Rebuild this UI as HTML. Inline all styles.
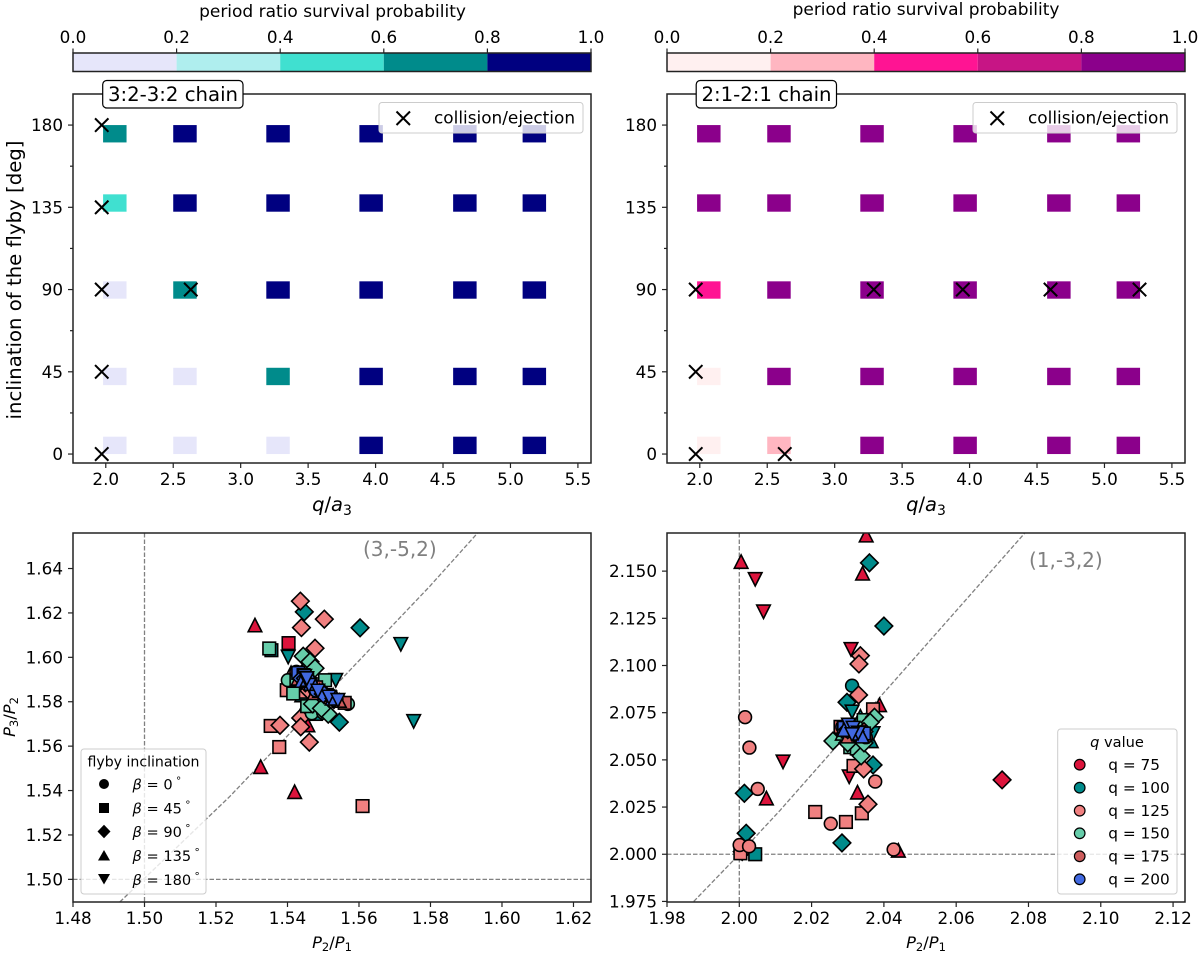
<!DOCTYPE html>
<html lang="en">
<head>
<meta charset="utf-8">
<title>Period ratio survival probability</title>
<style>
html,body{margin:0;padding:0;background:#fff;width:1200px;height:953px;overflow:hidden}
svg{display:block;font-family:"DejaVu Sans","Liberation Sans",sans-serif;fill:#000}
</style>
</head>
<body>
<svg id="fig" xmlns="http://www.w3.org/2000/svg" width="1200" height="953" viewBox="0 0 1200 953">
<defs>
<clipPath id="clip-tl"><rect x="73" y="94" width="518" height="369"/></clipPath>
<clipPath id="clip-tr"><rect x="667" y="94" width="518" height="369"/></clipPath>
<clipPath id="clip-bl"><rect x="73" y="533" width="518" height="369"/></clipPath>
<clipPath id="clip-br"><rect x="667" y="533" width="518" height="369"/></clipPath>
</defs>
<g id="layer-main"></g>

<!-- static titles -->
<text x="332.5" y="17" font-size="17" text-anchor="middle">period ratio survival probability</text>
<text x="926" y="15" font-size="17" text-anchor="middle">period ratio survival probability</text>
<text transform="translate(21,280) rotate(-90)" font-size="19.7" text-anchor="middle">inclination of the flyby [deg]</text>
<text x="332" y="511" font-size="19.5" text-anchor="middle"><tspan font-style="italic">q</tspan>/<tspan font-style="italic">a</tspan><tspan font-size="14" dy="4">3</tspan></text>
<text x="926" y="511" font-size="19.5" text-anchor="middle"><tspan font-style="italic">q</tspan>/<tspan font-style="italic">a</tspan><tspan font-size="14" dy="4">3</tspan></text>
<text x="332" y="948" font-size="16.3" text-anchor="middle"><tspan font-style="italic">P</tspan><tspan font-size="11.5" dy="3">2</tspan><tspan dy="-3">/</tspan><tspan font-style="italic">P</tspan><tspan font-size="11.5" dy="3">1</tspan></text>
<text x="926" y="948" font-size="16.3" text-anchor="middle"><tspan font-style="italic">P</tspan><tspan font-size="11.5" dy="3">2</tspan><tspan dy="-3">/</tspan><tspan font-style="italic">P</tspan><tspan font-size="11.5" dy="3">1</tspan></text>
<text transform="translate(15,717) rotate(-90)" font-size="16.3" text-anchor="middle"><tspan font-style="italic">P</tspan><tspan font-size="11.5" dy="3">3</tspan><tspan dy="-3">/</tspan><tspan font-style="italic">P</tspan><tspan font-size="11.5" dy="3">2</tspan></text>
<text x="363" y="556" font-size="20" style="fill:#808080">(3,-5,2)</text>
<text x="1029" y="567" font-size="20" style="fill:#808080">(1,-3,2)</text>

<!-- chain labels -->
<g>
<rect x="102.7" y="80.5" width="140.3" height="27.5" rx="4" fill="#fff" stroke="#000" stroke-width="1.2"/>
<text x="173" y="101" font-size="19.7" text-anchor="middle">3:2-3:2 chain</text>
</g>
<g>
<rect x="696.2" y="80.5" width="140.3" height="27.5" rx="4" fill="#fff" stroke="#000" stroke-width="1.2"/>
<text x="766.5" y="101" font-size="19.7" text-anchor="middle">2:1-2:1 chain</text>
</g>

<!-- collision legends -->
<g>
<rect x="379" y="102.5" width="204" height="30.5" rx="3" fill="#fff" fill-opacity="0.8" stroke="#ccc" stroke-width="1"/>
<path d="M396.5 111.5L410 125M410 111.5L396.5 125" stroke="#000" stroke-width="2" fill="none"/>
<text x="434" y="123.5" font-size="16.9">collision/ejection</text>
</g>
<g>
<rect x="973" y="102.5" width="204" height="30.5" rx="3" fill="#fff" fill-opacity="0.8" stroke="#ccc" stroke-width="1"/>
<path d="M990.5 111.5L1004 125M1004 111.5L990.5 125" stroke="#000" stroke-width="2" fill="none"/>
<text x="1028" y="123.5" font-size="16.9">collision/ejection</text>
</g>

<!-- flyby inclination legend -->
<g font-size="14.6">
<rect x="81" y="749" width="125" height="145" rx="3" fill="#fff" fill-opacity="0.8" stroke="#ccc" stroke-width="1"/>
<text x="143.5" y="766.5" font-size="14.1" text-anchor="middle">flyby inclination</text>
<circle cx="104" cy="784" r="5"/>
<rect x="99" y="803" width="10" height="10"/>
<path d="M104 824.7L110.5 831.5L104 838.2L97.5 831.5Z"/>
<path d="M98 860.5L110 860.5L104 850Z"/>
<path d="M98 874L110 874L104 884.5Z"/>
<text x="132.5" y="789.5"><tspan font-style="italic">β</tspan> = 0<tspan font-size="10.5" dy="-5"> °</tspan></text>
<text x="132.5" y="813.5"><tspan font-style="italic">β</tspan> = 45<tspan font-size="10.5" dy="-5"> °</tspan></text>
<text x="132.5" y="837"><tspan font-style="italic">β</tspan> = 90<tspan font-size="10.5" dy="-5"> °</tspan></text>
<text x="132.5" y="861"><tspan font-style="italic">β</tspan> = 135<tspan font-size="10.5" dy="-5"> °</tspan></text>
<text x="132.5" y="885"><tspan font-style="italic">β</tspan> = 180<tspan font-size="10.5" dy="-5"> °</tspan></text>
</g>

<!-- q value legend -->
<g font-size="15.3">
<rect x="1057.7" y="729" width="119.3" height="165" rx="3" fill="#fff" fill-opacity="0.8" stroke="#ccc" stroke-width="1"/>
<text x="1117" y="747" font-size="14.6" text-anchor="middle"><tspan font-style="italic">q</tspan> value</text>
<circle cx="1079.7" cy="764.7" r="5.3" fill="#DC143C" stroke="#000" stroke-width="1.2"/>
<circle cx="1079.7" cy="787.7" r="5.3" fill="#008B8B" stroke="#000" stroke-width="1.2"/>
<circle cx="1079.7" cy="810.7" r="5.3" fill="#F08080" stroke="#000" stroke-width="1.2"/>
<circle cx="1079.7" cy="833.3" r="5.3" fill="#66CDAA" stroke="#000" stroke-width="1.2"/>
<circle cx="1079.7" cy="856.3" r="5.3" fill="#CD5C5C" stroke="#000" stroke-width="1.2"/>
<circle cx="1079.7" cy="879.3" r="5.3" fill="#4169E1" stroke="#000" stroke-width="1.2"/>
<text x="1108.3" y="770">q = 75</text>
<text x="1108.3" y="793">q = 100</text>
<text x="1108.3" y="816">q = 125</text>
<text x="1108.3" y="838.6">q = 150</text>
<text x="1108.3" y="861.6">q = 175</text>
<text x="1108.3" y="884.6">q = 200</text>
</g>
</svg>

<script>
// ---- heatmap data ----
const inclinationTicks = [0, 45, 90, 135, 180];
const inclinationMinorTicks = [22.5, 67.5, 112.5, 157.5];
const qOverATicks = [2.0, 2.5, 3.0, 3.5, 4.0, 4.5, 5.0, 5.5];
const cellColumnStart = [1.98, 2.50, 3.19, 3.88, 4.575, 5.09];
const cellRowStart = [0, 37.7, 85, 132.6, 170.5];
const cellColumnWidth = 0.174;
const cellRowHeight = 9.5;
const survivalLeft = [
  [0.1, 0.1, 0.1, 0.9, 0.9, 0.9],
  [0.1, 0.1, 0.7, 0.9, 0.9, 0.9],
  [0.1, 0.7, 0.9, 0.9, 0.9, 0.9],
  [0.5, 0.9, 0.9, 0.9, 0.9, 0.9],
  [0.7, 0.9, 0.9, 0.9, 0.9, 0.9]
];
const survivalRight = [
  [0.1, 0.3, 0.9, 0.9, 0.9, 0.9],
  [0.1, 0.9, 0.9, 0.9, 0.9, 0.9],
  [0.5, 0.9, 0.9, 0.9, 0.9, 0.9],
  [0.9, 0.9, 0.9, 0.9, 0.9, 0.9],
  [0.9, 0.9, 0.9, 0.9, 0.9, 0.9]
];
const collisionsLeft = [[1.97,0],[1.97,45],[1.97,90],[2.63,90],[1.97,135],[1.97,180]];
const collisionsRight = [[1.97,0],[2.63,0],[1.97,45],[1.97,90],[3.29,90],[3.95,90],[4.60,90],[5.26,90]];
const colorbarTicks = [0.0, 0.2, 0.4, 0.6, 0.8, 1.0];
const paletteLeft = ['#E6E6FA','#AFEEEE','#40E0D0','#008B8B','#000080'];
const paletteRight = ['#FFF0F0','#FFB6C1','#FF1493','#C71585','#8B008B'];

// ---- scatter axes ----
const leftXTicks = [1.48,1.50,1.52,1.54,1.56,1.58,1.60,1.62];
const leftYTicks = [1.50,1.52,1.54,1.56,1.58,1.60,1.62,1.64];
const rightXTicks = [1.98,2.00,2.02,2.04,2.06,2.08,2.10,2.12];
const rightYTicks = [1.975,2.000,2.025,2.050,2.075,2.100,2.125,2.150];
const leftGuideX = [1.4931,1.5239,1.5798,1.5933];
const leftGuideY = [1.4898,1.5374,1.6320,1.6562];
const rightGuideX = [1.9874,2.0000,2.0113,2.0789];
const rightGuideY = [1.9750,2.0000,2.0233,2.1700];
const qColors = ['#DC143C','#008B8B','#F08080','#66CDAA','#CD5C5C','#4169E1'];
const qNames = ['q75','q100','q125','q150','q175','q200'];
const betaNames = ['circle','square','diamond','triangle-up','triangle-down'];

// ---- scatter values: [P2/P1, P3/P2, beta index] ----
const leftQ75 = [[1.5403,1.6064,1],[1.5309,1.6145,3],[1.5325,1.5507,3],[1.5420,1.5394,3],[1.5457,1.5695,3]];
const leftQ100 = [[1.5355,1.6032,1],[1.5480,1.5745,1],[1.5447,1.6205,2],[1.5603,1.6133,2],[1.5545,1.5708,2],[1.5470,1.5760,2],[1.5440,1.5750,3],[1.5440,1.5830,3],[1.5717,1.6059,4],[1.5753,1.5712,4],[1.5402,1.6002,4],[1.5535,1.5897,4]];
const leftQ125 = [[1.5353,1.5691,1],[1.5377,1.5596,1],[1.5610,1.5330,1],[1.5398,1.5852,1],[1.5440,1.5845,1],[1.5436,1.6253,2],[1.5503,1.6172,2],[1.5439,1.6134,2],[1.5477,1.6041,2],[1.5379,1.5694,2],[1.5437,1.5727,2],[1.5437,1.5687,2],[1.5461,1.5618,2],[1.5425,1.5880,2],[1.5460,1.5850,2],[1.5410,1.5930,3]];
const leftQ150 = [[1.5401,1.5897,0],[1.5569,1.5790,0],[1.5468,1.5748,0],[1.5500,1.5750,0],[1.5349,1.6040,1],[1.5416,1.5837,1],[1.5505,1.5897,1],[1.5480,1.5800,1],[1.5455,1.5780,1],[1.5425,1.5900,1],[1.5444,1.6005,2],[1.5463,1.5980,2],[1.5477,1.5951,2],[1.5514,1.5744,2],[1.5470,1.5790,2],[1.5495,1.5770,2]];
const leftQ175 = [[1.5425,1.5935,0],[1.5470,1.5875,0],[1.5510,1.5825,0],[1.5550,1.5800,0],[1.5455,1.5900,1],[1.5480,1.5865,1],[1.5520,1.5820,1],[1.5560,1.5795,1],[1.5440,1.5925,2],[1.5450,1.5885,2],[1.5500,1.5840,2],[1.5530,1.5810,2],[1.5430,1.5905,3],[1.5475,1.5840,3],[1.5490,1.5850,3],[1.5545,1.5805,3]];
const leftQ200 = [[1.5440,1.5925,0],[1.5480,1.5850,0],[1.5430,1.5930,1],[1.5445,1.5920,1],[1.5465,1.5880,1],[1.5510,1.5830,1],[1.5440,1.5905,2],[1.5450,1.5905,2],[1.5500,1.5835,2],[1.5530,1.5815,2],[1.5440,1.5895,3],[1.5455,1.5900,3],[1.5470,1.5895,3],[1.5525,1.5815,3],[1.5448,1.5915,4],[1.5460,1.5875,4],[1.5454,1.5905,4],[1.5485,1.5849,4],[1.5516,1.5822,4],[1.5541,1.5807,4]];

const rightQ75 = [[2.0008,2.0014,2],[2.0727,2.0394,2],[2.0005,2.1550,3],[2.0341,2.1488,3],[2.0351,2.1690,3],[2.0388,2.0791,3],[2.0075,2.0297,3],[2.0327,2.0328,3],[2.0440,2.0020,3],[2.0044,2.1457,4],[2.0067,2.1285,4],[2.0309,2.1086,4],[2.0304,2.0411,4],[2.0121,2.0490,4]];
const rightQ100 = [[2.0312,2.0893,0],[2.0044,2.0000,1],[2.0340,2.0600,1],[2.0360,2.1544,2],[2.0400,2.1209,2],[2.0298,2.0805,2],[2.0370,2.0473,2],[2.0014,2.0323,2],[2.0019,2.0111,2],[2.0284,2.0060,2],[2.0350,2.0660,3],[2.0295,2.0665,3],[2.0365,2.0600,3],[2.0335,2.0730,3],[2.0312,2.0755,4],[2.0370,2.0640,4]];
const rightQ125 = [[2.0003,2.0005,1],[2.0285,2.0655,1],[2.0016,2.0726,0],[2.0028,2.0565,0],[2.0051,2.0346,0],[2.0376,2.0385,0],[2.0253,2.0162,0],[2.0001,2.0049,0],[2.0027,2.0042,0],[2.0427,2.0025,0],[2.0370,2.0768,1],[2.0316,2.0468,1],[2.0339,2.0217,1],[2.0210,2.0224,1],[2.0295,2.0171,1],[2.0335,2.1052,2],[2.0331,2.1008,2],[2.0330,2.0844,2],[2.0344,2.0452,2],[2.0356,2.0265,2],[2.0290,2.0640,2],[2.0320,2.0590,2]];
const rightQ150 = [[2.0300,2.0640,0],[2.0344,2.0711,1],[2.0307,2.0567,1],[2.0320,2.0600,1],[2.0325,2.0560,1],[2.0374,2.0726,2],[2.0362,2.0699,2],[2.0259,2.0600,2],[2.0337,2.0521,2],[2.0300,2.0590,2],[2.0345,2.0590,2],[2.0285,2.0640,3]];
const rightQ175 = [[2.0290,2.0660,0],[2.0325,2.0635,0],[2.0350,2.0620,0],[2.0280,2.0675,1],[2.0300,2.0650,1],[2.0340,2.0625,1],[2.0310,2.0640,2],[2.0345,2.0650,2],[2.0300,2.0625,3],[2.0315,2.0655,3],[2.0290,2.0670,4],[2.0330,2.0645,4]];
const rightQ200 = [[2.0285,2.0675,0],[2.0295,2.0665,0],[2.0290,2.0670,1],[2.0305,2.0660,1],[2.0345,2.0640,1],[2.0300,2.0660,2],[2.0320,2.0650,2],[2.0290,2.0660,3],[2.0330,2.0640,3],[2.0340,2.0625,3],[2.0302,2.0685,4],[2.0315,2.0669,4],[2.0329,2.0643,4],[2.0312,2.0635,4]];

const NS = 'http://www.w3.org/2000/svg';
const root = document.getElementById('layer-main');
function mk(tag, attrs, parent) {
  const el = document.createElementNS(NS, tag);
  for (const k in attrs) el.setAttribute(k, attrs[k]);
  (parent || root).appendChild(el);
  return el;
}
function scale(d0, d1, p0, p1) {
  return function (v) { return p0 + (v - d0) * (p1 - p0) / (d1 - d0); };
}
const AXIS = '#222';
function frame(box, name) {
  const el = mk('rect', {x: box.x, y: box.y, width: box.w, height: box.h, fill: 'none', stroke: AXIS, 'stroke-width': 1.5});
  
  
}
function xTick(x, y, len, label, up) {
  const t = mk('line', {x1: x, x2: x, y1: y, y2: up ? y - len : y + len, stroke: AXIS, 'stroke-width': 1.2});
  
  
  if (label !== null) {
    const s = mk('text', {x: x, y: up ? y - 10 : y + 22, 'font-size': 16.8, 'text-anchor': 'middle'});
    s.textContent = label;
    
    
  }
}
function yTick(x, y, len, label) {
  const t = mk('line', {x1: x, x2: x - len, y1: y, y2: y, stroke: AXIS, 'stroke-width': 1.2});
  
  
  if (label !== null) {
    const s = mk('text', {x: x - 10, y: y + 6, 'font-size': 16.8, 'text-anchor': 'end'});
    s.textContent = label;
    
    
  }
}
function colorbar(x0, palette, name) {
  const cx = scale(0, 1, x0, x0 + 518);
  palette.forEach(function (c, i) {
    const r = mk('rect', {x: cx(i / palette.length), y: 53, width: cx((i + 1) / palette.length) - cx(i / palette.length), height: 18.5, fill: c});
    
    
  });
  frame({x: x0, y: 53, w: 518, h: 18.5}, name + '-frame');
  colorbarTicks.forEach(function (t) { xTick(cx(t), 53, 4.5, t.toFixed(1), true); });
}
function heatPanel(box, survival, collisions, palette, clipId, name) {
  const sx = scale(1.757, 5.597, box.x, box.x + box.w);
  const sy = scale(-4.9, 197, box.y + box.h, box.y);
  const g = mk('g', {'clip-path': 'url(#' + clipId + ')'});
  
  
  survival.forEach(function (row, r) {
    row.forEach(function (v, c) {
      const idx = Math.min(palette.length - 1, Math.floor(v * palette.length));
      const x0 = sx(cellColumnStart[c]), x1 = sx(cellColumnStart[c] + cellColumnWidth);
      const y1 = sy(cellRowStart[r]), y0 = sy(cellRowStart[r] + cellRowHeight);
      const el = mk('rect', {x: x0, y: y0, width: x1 - x0, height: y1 - y0, fill: palette[idx]}, g);
      
      
    });
  });
  collisions.forEach(function (p) {
    const x = sx(p[0]), y = sy(p[1]), d = 6.7;
    const el = mk('path', {d: 'M' + (x - d) + ' ' + (y - d) + 'L' + (x + d) + ' ' + (y + d) + 'M' + (x + d) + ' ' + (y - d) + 'L' + (x - d) + ' ' + (y + d), stroke: '#000', 'stroke-width': 2, fill: 'none'}, root);
    
    
  });
  frame(box, name + '-frame');
  qOverATicks.forEach(function (t) { xTick(sx(t), box.y + box.h, 5, t.toFixed(1), false); });
  inclinationTicks.forEach(function (t) { yTick(box.x, sy(t), 5, String(t)); });
  inclinationMinorTicks.forEach(function (t) { yTick(box.x, sy(t), 3, null); });
}
function drawMarker(g, beta, x, y, color) {
  const common = {fill: color, stroke: '#000', 'stroke-width': 1.6};
  let el;
  if (beta === 0) {
    el = mk('circle', Object.assign({cx: x, cy: y, r: 6.4}, common), g);
  } else if (beta === 1) {
    el = mk('rect', Object.assign({x: x - 6.3, y: y - 6.3, width: 12.6, height: 12.6}, common), g);
  } else if (beta === 2) {
    el = mk('path', Object.assign({d: 'M' + x + ' ' + (y - 8.8) + 'L' + (x + 8.8) + ' ' + y + 'L' + x + ' ' + (y + 8.8) + 'L' + (x - 8.8) + ' ' + y + 'Z'}, common), g);
  } else if (beta === 3) {
    el = mk('path', Object.assign({d: 'M' + x + ' ' + (y - 6.8) + 'L' + (x + 6.8) + ' ' + (y + 6.6) + 'L' + (x - 6.8) + ' ' + (y + 6.6) + 'Z'}, common), g);
  } else {
    el = mk('path', Object.assign({d: 'M' + x + ' ' + (y + 6.8) + 'L' + (x + 6.8) + ' ' + (y - 6.6) + 'L' + (x - 6.8) + ' ' + (y - 6.6) + 'Z'}, common), g);
  }
  return el;
}
function scatterPanel(cfg) {
  const box = cfg.box;
  const sx = scale(cfg.xDomain[0], cfg.xDomain[1], box.x, box.x + box.w);
  const sy = scale(cfg.yDomain[0], cfg.yDomain[1], box.y + box.h, box.y);
  const g = mk('g', {'clip-path': 'url(#' + cfg.clip + ')'});
  
  
  const dash = {stroke: '#808080', 'stroke-width': 1.3, 'stroke-dasharray': '4.5 2', fill: 'none'};
  const v = mk('line', Object.assign({x1: sx(cfg.res[0]), x2: sx(cfg.res[0]), y1: box.y, y2: box.y + box.h}, dash), g);
  
  
  const h = mk('line', Object.assign({x1: box.x, x2: box.x + box.w, y1: sy(cfg.res[1]), y2: sy(cfg.res[1])}, dash), g);
  
  
  const pts = cfg.guideX.map(function (x, i) { return sx(x) + ',' + sy(cfg.guideY[i]); }).join(' ');
  const d = mk('polyline', Object.assign({points: pts}, dash), g);
  
  
  cfg.series.forEach(function (points, q) {
    const sg = mk('g', {}, g);
    
    
    points.forEach(function (p) {
      const el = drawMarker(sg, p[2], sx(p[0]), sy(p[1]), qColors[q]);
      
      
    });
  });
  frame(box, cfg.name + '-frame');
  cfg.xTicks.forEach(function (t) { xTick(sx(t), box.y + box.h, 5, t.toFixed(2), false); });
  cfg.yTicks.forEach(function (t) { yTick(box.x, sy(t), 5, t.toFixed(cfg.yDigits)); });
}

colorbar(73, paletteLeft, 'colorbar-left');
colorbar(667, paletteRight, 'colorbar-right');
heatPanel({x: 73, y: 94, w: 518, h: 369}, survivalLeft, collisionsLeft, paletteLeft, 'clip-tl', 'heatmap-3-2-chain');
heatPanel({x: 667, y: 94, w: 518, h: 369}, survivalRight, collisionsRight, paletteRight, 'clip-tr', 'heatmap-2-1-chain');
scatterPanel({
  name: 'scatter-3-2-chain', clip: 'clip-bl', box: {x: 73, y: 533, w: 518, h: 369},
  xDomain: [1.48, 1.6249], yDomain: [1.4898, 1.6560], res: [1.5, 1.5],
  guideX: leftGuideX, guideY: leftGuideY, xTicks: leftXTicks, yTicks: leftYTicks, yDigits: 2,
  series: [leftQ75, leftQ100, leftQ125, leftQ150, leftQ175, leftQ200]
});
scatterPanel({
  name: 'scatter-2-1-chain', clip: 'clip-br', box: {x: 667, y: 533, w: 518, h: 369},
  xDomain: [1.98, 2.1233], yDomain: [1.9747, 2.1702], res: [2.0, 2.0],
  guideX: rightGuideX, guideY: rightGuideY, xTicks: rightXTicks, yTicks: rightYTicks, yDigits: 3,
  series: [rightQ75, rightQ100, rightQ125, rightQ150, rightQ175, rightQ200]
});
</script>
</body>
</html>
